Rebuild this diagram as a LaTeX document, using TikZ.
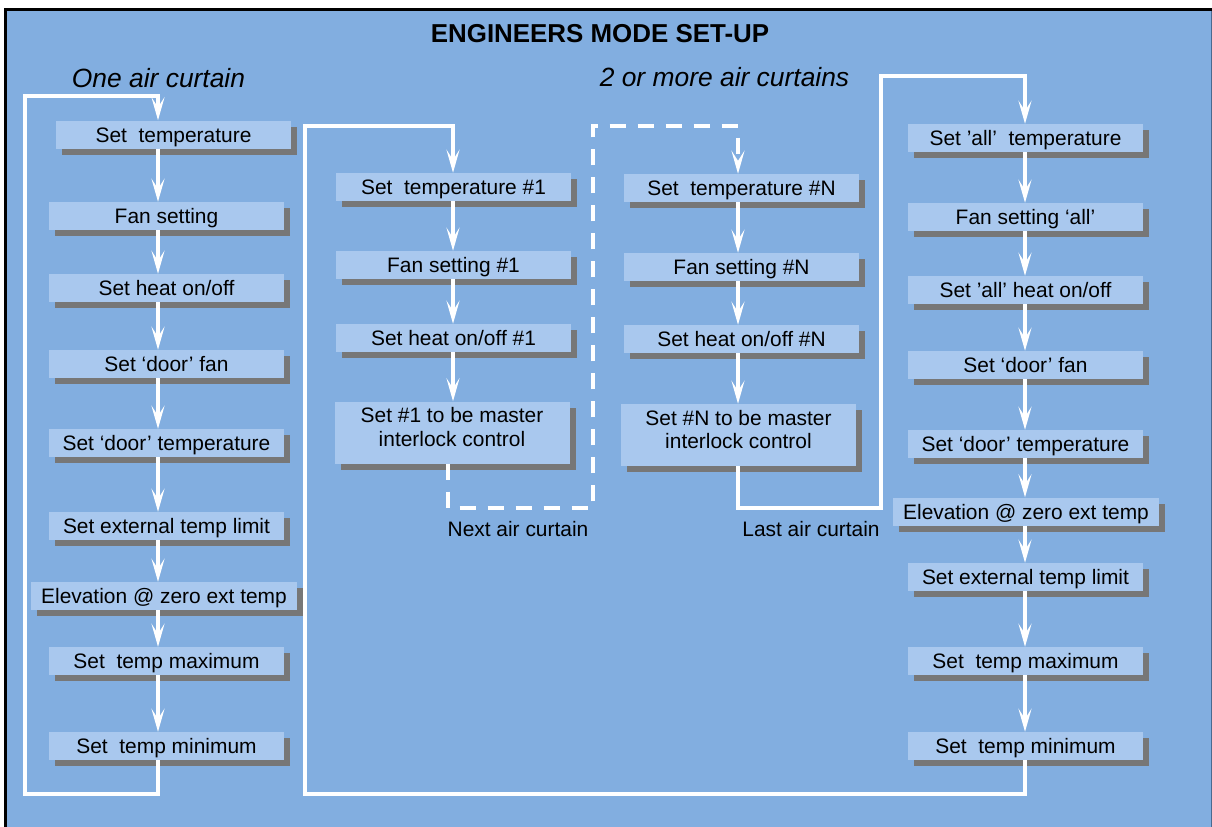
\documentclass[tikz,border=0pt]{standalone}
\usepackage{fontspec}
\setmainfont{Liberation Sans}
\usetikzlibrary{arrows.meta,shadows}
\definecolor{bg}{HTML}{82AEE0}
\definecolor{boxfill}{HTML}{A9C8EE}
\definecolor{shadowgray}{HTML}{777777}
\definecolor{edgegray}{HTML}{4A6A90}
\begin{document}
\begin{tikzpicture}[x=1bp,y=-1bp,
  basebox/.style={fill=boxfill, minimum width=235bp, inner sep=0pt,
    font=\fontsize{21}{23.5}\selectfont,
    general shadow={fill=shadowgray, shadow xshift=6bp, shadow yshift=-6bp}},
  box/.style={basebox, minimum height=28bp, text height=15bp, text depth=0pt},
  widebox/.style={box, minimum width=266bp},
  tallbox/.style={basebox, minimum height=62bp, align=center, text depth=11bp},
  flow/.style={draw=white, line width=3.2bp, line join=miter,
    -{Stealth[length=23bp,width=13bp,inset=10bp]}},
  titletext/.style={font=\bfseries\fontsize{26}{30}\selectfont, inner sep=0pt},
  headtext/.style={font=\itshape\fontsize{26.5}{30}\selectfont, inner sep=0pt},
  smalltext/.style={font=\fontsize{21}{24}\selectfont, inner sep=0pt}
]
\useasboundingbox (0,0) rectangle (1212,827);
\fill[white] (0,0) rectangle (1212,827);
\fill[bg] (5,9) rectangle (1212,827);
\draw[edgegray, line width=1bp] (1211,9) -- (1211,827);
\draw[black, line width=2.5bp] (5.5,827) -- (5.5,9.5) -- (1212,9.5);

% headings
\node[titletext, anchor=base] (title) at (600,42) {ENGINEERS MODE SET-UP};
\node[headtext, anchor=base] (one) at (158.5,87) {One air curtain};
\node[headtext, anchor=base] (more) at (724.5,86) {2 or more air curtains};
\node[smalltext, anchor=base] (next) at (518,536) {Next air curtain};
\node[smalltext, anchor=base] (last) at (811,536) {Last air curtain};

% left column
\node[box] (L1) at (173.5,134.5) {Set\ \ temperature};
\node[box] (L2) at (166.5,216) {Fan setting};
\node[box] (L3) at (166.5,288) {Set heat on/off};
\node[box] (L4) at (166.5,364) {Set ‘door’ fan};
\node[box] (L5) at (166.5,443) {Set ‘door’ temperature};
\node[box] (L6) at (166.5,526) {Set external temp limit};
\node[widebox] (L7) at (164,596) {Elevation @ zero ext temp};
\node[box] (L8) at (166.5,661) {Set\ \ temp maximum};
\node[box] (L9) at (166.5,746) {Set\ \ temp minimum};

% middle column #1
\node[box] (M1) at (453.5,187) {Set\ \ temperature \#1};
\node[box] (M2) at (453.5,265) {Fan setting \#1};
\node[box] (M3) at (453.5,338) {Set heat on/off \#1};
\node[tallbox] (M4) at (452,432.5) {Set \#1 to be master\\interlock control};

% middle column #N
\node[box] (N1) at (741.5,188) {Set\ \ temperature \#N};
\node[box] (N2) at (741.5,267) {Fan setting \#N};
\node[box] (N3) at (741.5,339) {Set heat on/off \#N};
\node[tallbox] (N4) at (738.5,435) {Set \#N to be master\\interlock control};

% right column
\node[box] (R1) at (1025.5,138) {Set ’all’\ \ temperature};
\node[box] (R2) at (1025.5,217) {Fan setting ‘all’};
\node[box] (R3) at (1025.5,290) {Set ’all’ heat on/off};
\node[box] (R4) at (1025.5,365) {Set ‘door’ fan};
\node[box] (R5) at (1025.5,444) {Set ‘door’ temperature};
\node[widebox] (R6) at (1026,511.5) {Elevation @ zero ext temp};
\node[box] (R7) at (1025.5,577) {Set external temp limit};
\node[box] (R8) at (1025.5,661) {Set\ \ temp maximum};
\node[box] (R9) at (1025.5,746) {Set\ \ temp minimum};

% connector x positions and corners
\coordinate (xL) at (158,0);
\coordinate (xM) at (453,0);
\coordinate (xMd) at (448,0);
\coordinate (xN) at (738,0);
\coordinate (xR) at (1025,0);
\coordinate (lb) at (25,794);
\coordinate (lt) at (25,96);
\coordinate (bb) at (305,794);
\coordinate (bt) at (305,126);
\coordinate (db) at (593,508);
\coordinate (dt) at (593,126);
\coordinate (eb) at (881,508);
\coordinate (et) at (881,76);

% column arrows
\foreach \a/\b in {L1/L2,L2/L3,L3/L4,L4/L5,L5/L6,L6/L7,L7/L8,L8/L9}
  \draw[flow] (\a.south -| xL) -- (\b.north -| xL);
\foreach \a/\b in {M1/M2,M2/M3,M3/M4}
  \draw[flow] (\a.south -| xM) -- (\b.north -| xM);
\foreach \a/\b in {N1/N2,N2/N3,N3/N4}
  \draw[flow] (\a.south -| xN) -- (\b.north -| xN);
\foreach \a/\b in {R1/R2,R2/R3,R3/R4,R4/R5,R5/R6,R6/R7,R7/R8,R8/R9}
  \draw[flow] (\a.south -| xR) -- (\b.north -| xR);

% loops
\draw[flow] (L9.south -| xL) |- (lb) -- (lt) -| (L1.north -| xL);
\draw[flow] (R9.south -| xR) |- (bb) -- (bt) -| (M1.north -| xM);
\draw[flow, dash pattern=on 16bp off 12bp] (M4.south -| xMd) |- (db) -- (dt) -| (N1.north -| xN);
\draw[flow] (N4.south -| xN) |- (eb) -- (et) -| (R1.north -| xR);
\end{tikzpicture}
\end{document}
